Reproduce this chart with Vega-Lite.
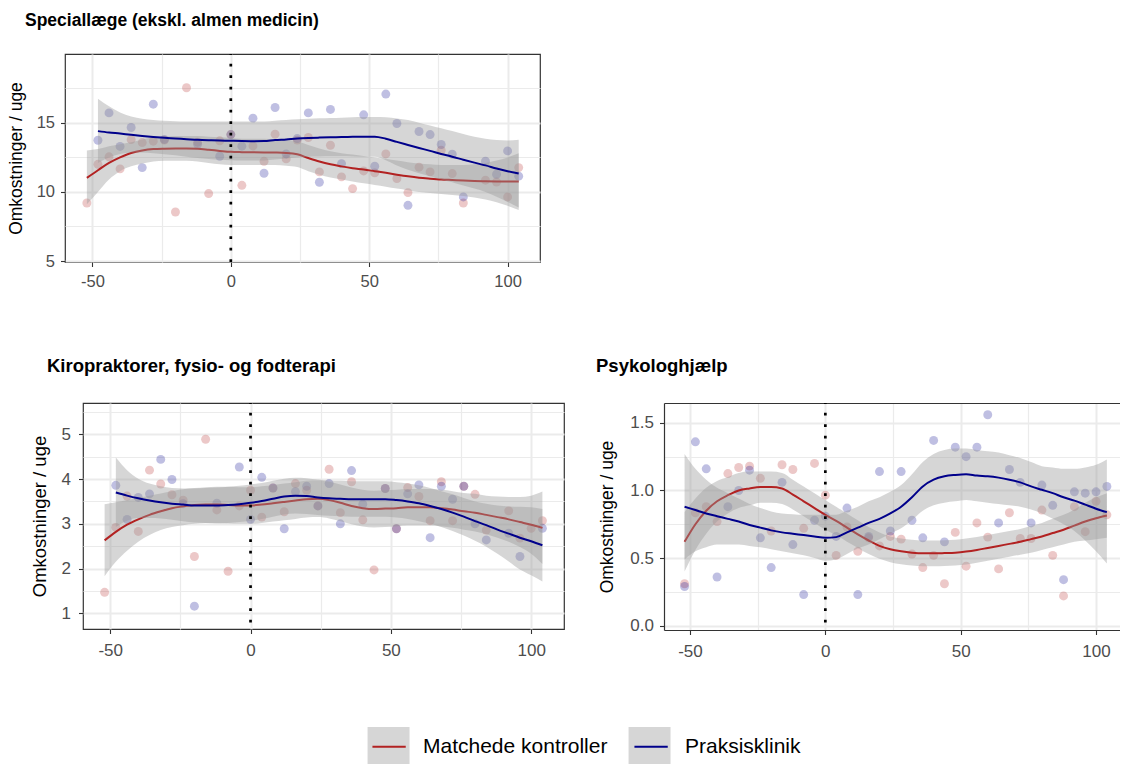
{
  "$schema": "https://vega.github.io/schema/vega-lite/v6.json",
  "padding": {"left": 0, "top": 11, "right": 0, "bottom": 0},
  "config": {
    "font": "Liberation Sans",
    "view": {"stroke": "#333333", "strokeWidth": 1.2},
    "axis": {"labelColor": "#4d4d4d", "titleColor": "#000000", "tickColor": "#333333", "tickSize": 4.5, "tickWidth": 1.1, "domain": false, "gridColor": "#ebebeb", "titleFontWeight": "normal", "labelFont": "Liberation Sans", "titleFont": "Liberation Sans"},
    "title": {"font": "Liberation Sans", "fontWeight": "bold", "color": "#000000", "anchor": "start", "frame": "group"},
    "legend": {"orient": "none", "direction": "horizontal", "legendX": 367, "legendY": 673, "title": null, "symbolSize": 1369, "labelFontSize": 21, "labelColor": "#000000", "labelOffset": 17, "columnPadding": 21, "labelLimit": 400, "padding": 0, "labelFont": "Liberation Sans"}
  },
  "datasets": {
    "vline": [{"x": 0}],
    "p1_pts": [
      {"x": -52, "y": 9.2, "group": "Matchede kontroller"},
      {"x": -48, "y": 12.0, "group": "Matchede kontroller"},
      {"x": -44, "y": 12.54, "group": "Matchede kontroller"},
      {"x": -40, "y": 11.67, "group": "Matchede kontroller"},
      {"x": -36, "y": 13.79, "group": "Matchede kontroller"},
      {"x": -32, "y": 13.57, "group": "Matchede kontroller"},
      {"x": -28, "y": 13.67, "group": "Matchede kontroller"},
      {"x": -24, "y": 13.75, "group": "Matchede kontroller"},
      {"x": -20, "y": 8.55, "group": "Matchede kontroller"},
      {"x": -16, "y": 17.54, "group": "Matchede kontroller"},
      {"x": -12, "y": 13.6, "group": "Matchede kontroller"},
      {"x": -8, "y": 9.88, "group": "Matchede kontroller"},
      {"x": -4, "y": 13.7, "group": "Matchede kontroller"},
      {"x": 0, "y": 14.15, "group": "Matchede kontroller"},
      {"x": 4, "y": 10.48, "group": "Matchede kontroller"},
      {"x": 8, "y": 13.33, "group": "Matchede kontroller"},
      {"x": 12, "y": 12.22, "group": "Matchede kontroller"},
      {"x": 16, "y": 14.18, "group": "Matchede kontroller"},
      {"x": 20, "y": 12.39, "group": "Matchede kontroller"},
      {"x": 24, "y": 13.75, "group": "Matchede kontroller"},
      {"x": 28, "y": 13.94, "group": "Matchede kontroller"},
      {"x": 32, "y": 11.45, "group": "Matchede kontroller"},
      {"x": 36, "y": 13.38, "group": "Matchede kontroller"},
      {"x": 40, "y": 11.09, "group": "Matchede kontroller"},
      {"x": 44, "y": 10.24, "group": "Matchede kontroller"},
      {"x": 48, "y": 11.52, "group": "Matchede kontroller"},
      {"x": 52, "y": 11.38, "group": "Matchede kontroller"},
      {"x": 56, "y": 12.75, "group": "Matchede kontroller"},
      {"x": 60, "y": 10.97, "group": "Matchede kontroller"},
      {"x": 64, "y": 9.95, "group": "Matchede kontroller"},
      {"x": 68, "y": 11.79, "group": "Matchede kontroller"},
      {"x": 72, "y": 11.45, "group": "Matchede kontroller"},
      {"x": 76, "y": 13.02, "group": "Matchede kontroller"},
      {"x": 80, "y": 11.33, "group": "Matchede kontroller"},
      {"x": 84, "y": 9.2, "group": "Matchede kontroller"},
      {"x": 92, "y": 10.85, "group": "Matchede kontroller"},
      {"x": 96, "y": 10.72, "group": "Matchede kontroller"},
      {"x": 100, "y": 9.64, "group": "Matchede kontroller"},
      {"x": 104, "y": 11.76, "group": "Matchede kontroller"},
      {"x": -48, "y": 13.74, "group": "Praksisklinik"},
      {"x": -44, "y": 15.72, "group": "Praksisklinik"},
      {"x": -40, "y": 13.29, "group": "Praksisklinik"},
      {"x": -36, "y": 14.66, "group": "Praksisklinik"},
      {"x": -32, "y": 11.76, "group": "Praksisklinik"},
      {"x": -28, "y": 16.35, "group": "Praksisklinik"},
      {"x": -24, "y": 13.8, "group": "Praksisklinik"},
      {"x": -12, "y": 13.45, "group": "Praksisklinik"},
      {"x": -4, "y": 12.58, "group": "Praksisklinik"},
      {"x": 0, "y": 14.15, "group": "Praksisklinik"},
      {"x": 4, "y": 13.31, "group": "Praksisklinik"},
      {"x": 8, "y": 15.34, "group": "Praksisklinik"},
      {"x": 12, "y": 11.35, "group": "Praksisklinik"},
      {"x": 16, "y": 16.11, "group": "Praksisklinik"},
      {"x": 20, "y": 12.75, "group": "Praksisklinik"},
      {"x": 24, "y": 13.86, "group": "Praksisklinik"},
      {"x": 28, "y": 15.72, "group": "Praksisklinik"},
      {"x": 32, "y": 10.7, "group": "Praksisklinik"},
      {"x": 36, "y": 15.97, "group": "Praksisklinik"},
      {"x": 40, "y": 12.05, "group": "Praksisklinik"},
      {"x": 48, "y": 15.58, "group": "Praksisklinik"},
      {"x": 52, "y": 11.86, "group": "Praksisklinik"},
      {"x": 56, "y": 17.08, "group": "Praksisklinik"},
      {"x": 60, "y": 14.95, "group": "Praksisklinik"},
      {"x": 64, "y": 9.03, "group": "Praksisklinik"},
      {"x": 68, "y": 14.37, "group": "Praksisklinik"},
      {"x": 72, "y": 14.15, "group": "Praksisklinik"},
      {"x": 76, "y": 13.43, "group": "Praksisklinik"},
      {"x": 80, "y": 12.73, "group": "Praksisklinik"},
      {"x": 84, "y": 9.64, "group": "Praksisklinik"},
      {"x": 92, "y": 12.22, "group": "Praksisklinik"},
      {"x": 96, "y": 11.28, "group": "Praksisklinik"},
      {"x": 100, "y": 12.97, "group": "Praksisklinik"},
      {"x": 104, "y": 11.14, "group": "Praksisklinik"}
    ],
    "p1_fit": [
      {"x": -52, "fit": 11.02, "lo": 9.1, "hi": 13.0, "group": "Matchede kontroller"},
      {"x": -48, "fit": 11.57, "lo": 10.0, "hi": 13.1, "group": "Matchede kontroller"},
      {"x": -44, "fit": 12.1, "lo": 10.9, "hi": 13.3, "group": "Matchede kontroller"},
      {"x": -40, "fit": 12.5, "lo": 11.5, "hi": 13.45, "group": "Matchede kontroller"},
      {"x": -36, "fit": 12.82, "lo": 11.85, "hi": 13.6, "group": "Matchede kontroller"},
      {"x": -32, "fit": 13.0, "lo": 12.05, "hi": 13.8, "group": "Matchede kontroller"},
      {"x": -28, "fit": 13.1, "lo": 12.2, "hi": 13.95, "group": "Matchede kontroller"},
      {"x": -24, "fit": 13.13, "lo": 12.25, "hi": 14.0, "group": "Matchede kontroller"},
      {"x": -20, "fit": 13.14, "lo": 12.25, "hi": 14.05, "group": "Matchede kontroller"},
      {"x": -16, "fit": 13.14, "lo": 12.25, "hi": 14.05, "group": "Matchede kontroller"},
      {"x": -12, "fit": 13.12, "lo": 12.2, "hi": 14.05, "group": "Matchede kontroller"},
      {"x": -8, "fit": 13.05, "lo": 12.1, "hi": 14.0, "group": "Matchede kontroller"},
      {"x": -4, "fit": 12.97, "lo": 12.0, "hi": 13.95, "group": "Matchede kontroller"},
      {"x": 0, "fit": 12.9, "lo": 11.95, "hi": 13.9, "group": "Matchede kontroller"},
      {"x": 4, "fit": 12.88, "lo": 11.95, "hi": 13.85, "group": "Matchede kontroller"},
      {"x": 8, "fit": 12.87, "lo": 11.95, "hi": 13.85, "group": "Matchede kontroller"},
      {"x": 12, "fit": 12.86, "lo": 11.95, "hi": 13.85, "group": "Matchede kontroller"},
      {"x": 16, "fit": 12.85, "lo": 11.95, "hi": 13.8, "group": "Matchede kontroller"},
      {"x": 20, "fit": 12.82, "lo": 11.9, "hi": 13.75, "group": "Matchede kontroller"},
      {"x": 24, "fit": 12.72, "lo": 11.8, "hi": 13.65, "group": "Matchede kontroller"},
      {"x": 28, "fit": 12.45, "lo": 11.5, "hi": 13.4, "group": "Matchede kontroller"},
      {"x": 32, "fit": 12.2, "lo": 11.25, "hi": 13.15, "group": "Matchede kontroller"},
      {"x": 36, "fit": 12.0, "lo": 11.05, "hi": 12.95, "group": "Matchede kontroller"},
      {"x": 40, "fit": 11.85, "lo": 10.9, "hi": 12.8, "group": "Matchede kontroller"},
      {"x": 44, "fit": 11.72, "lo": 10.75, "hi": 12.7, "group": "Matchede kontroller"},
      {"x": 48, "fit": 11.62, "lo": 10.62, "hi": 12.6, "group": "Matchede kontroller"},
      {"x": 52, "fit": 11.5, "lo": 10.5, "hi": 12.5, "group": "Matchede kontroller"},
      {"x": 56, "fit": 11.38, "lo": 10.38, "hi": 12.4, "group": "Matchede kontroller"},
      {"x": 60, "fit": 11.25, "lo": 10.25, "hi": 12.27, "group": "Matchede kontroller"},
      {"x": 64, "fit": 11.13, "lo": 10.13, "hi": 12.15, "group": "Matchede kontroller"},
      {"x": 68, "fit": 11.03, "lo": 10.0, "hi": 12.05, "group": "Matchede kontroller"},
      {"x": 72, "fit": 10.96, "lo": 9.92, "hi": 12.0, "group": "Matchede kontroller"},
      {"x": 76, "fit": 10.9, "lo": 9.85, "hi": 11.95, "group": "Matchede kontroller"},
      {"x": 80, "fit": 10.86, "lo": 9.78, "hi": 11.94, "group": "Matchede kontroller"},
      {"x": 84, "fit": 10.82, "lo": 9.7, "hi": 11.95, "group": "Matchede kontroller"},
      {"x": 88, "fit": 10.79, "lo": 9.6, "hi": 12.0, "group": "Matchede kontroller"},
      {"x": 92, "fit": 10.77, "lo": 9.45, "hi": 12.1, "group": "Matchede kontroller"},
      {"x": 96, "fit": 10.76, "lo": 9.25, "hi": 12.27, "group": "Matchede kontroller"},
      {"x": 100, "fit": 10.75, "lo": 9.0, "hi": 12.5, "group": "Matchede kontroller"},
      {"x": 104, "fit": 10.75, "lo": 8.7, "hi": 12.8, "group": "Matchede kontroller"},
      {"x": -48, "fit": 14.4, "lo": 12.1, "hi": 16.75, "group": "Praksisklinik"},
      {"x": -44, "fit": 14.3, "lo": 12.5, "hi": 16.2, "group": "Praksisklinik"},
      {"x": -40, "fit": 14.22, "lo": 12.75, "hi": 15.75, "group": "Praksisklinik"},
      {"x": -36, "fit": 14.13, "lo": 12.85, "hi": 15.45, "group": "Praksisklinik"},
      {"x": -32, "fit": 14.05, "lo": 12.85, "hi": 15.3, "group": "Praksisklinik"},
      {"x": -28, "fit": 13.98, "lo": 12.8, "hi": 15.2, "group": "Praksisklinik"},
      {"x": -24, "fit": 13.92, "lo": 12.72, "hi": 15.15, "group": "Praksisklinik"},
      {"x": -20, "fit": 13.87, "lo": 12.65, "hi": 15.12, "group": "Praksisklinik"},
      {"x": -16, "fit": 13.82, "lo": 12.55, "hi": 15.1, "group": "Praksisklinik"},
      {"x": -12, "fit": 13.77, "lo": 12.45, "hi": 15.1, "group": "Praksisklinik"},
      {"x": -8, "fit": 13.74, "lo": 12.38, "hi": 15.1, "group": "Praksisklinik"},
      {"x": -4, "fit": 13.72, "lo": 12.33, "hi": 15.1, "group": "Praksisklinik"},
      {"x": 0, "fit": 13.7, "lo": 12.3, "hi": 15.1, "group": "Praksisklinik"},
      {"x": 4, "fit": 13.68, "lo": 12.28, "hi": 15.1, "group": "Praksisklinik"},
      {"x": 8, "fit": 13.67, "lo": 12.27, "hi": 15.1, "group": "Praksisklinik"},
      {"x": 12, "fit": 13.68, "lo": 12.28, "hi": 15.1, "group": "Praksisklinik"},
      {"x": 16, "fit": 13.75, "lo": 12.35, "hi": 15.15, "group": "Praksisklinik"},
      {"x": 20, "fit": 13.8, "lo": 12.42, "hi": 15.2, "group": "Praksisklinik"},
      {"x": 24, "fit": 13.86, "lo": 12.5, "hi": 15.25, "group": "Praksisklinik"},
      {"x": 28, "fit": 13.9, "lo": 12.55, "hi": 15.3, "group": "Praksisklinik"},
      {"x": 32, "fit": 13.93, "lo": 12.57, "hi": 15.33, "group": "Praksisklinik"},
      {"x": 36, "fit": 13.95, "lo": 12.58, "hi": 15.35, "group": "Praksisklinik"},
      {"x": 40, "fit": 13.97, "lo": 12.58, "hi": 15.37, "group": "Praksisklinik"},
      {"x": 44, "fit": 13.99, "lo": 12.57, "hi": 15.4, "group": "Praksisklinik"},
      {"x": 48, "fit": 14.0, "lo": 12.55, "hi": 15.42, "group": "Praksisklinik"},
      {"x": 52, "fit": 14.0, "lo": 12.55, "hi": 15.43, "group": "Praksisklinik"},
      {"x": 56, "fit": 13.85, "lo": 12.3, "hi": 15.4, "group": "Praksisklinik"},
      {"x": 60, "fit": 13.62, "lo": 11.92, "hi": 15.32, "group": "Praksisklinik"},
      {"x": 64, "fit": 13.4, "lo": 11.6, "hi": 15.2, "group": "Praksisklinik"},
      {"x": 68, "fit": 13.18, "lo": 11.36, "hi": 15.0, "group": "Praksisklinik"},
      {"x": 72, "fit": 12.97, "lo": 11.14, "hi": 14.8, "group": "Praksisklinik"},
      {"x": 76, "fit": 12.75, "lo": 10.9, "hi": 14.6, "group": "Praksisklinik"},
      {"x": 80, "fit": 12.55, "lo": 10.7, "hi": 14.4, "group": "Praksisklinik"},
      {"x": 84, "fit": 12.33, "lo": 10.46, "hi": 14.2, "group": "Praksisklinik"},
      {"x": 88, "fit": 12.12, "lo": 10.24, "hi": 14.0, "group": "Praksisklinik"},
      {"x": 92, "fit": 11.92, "lo": 9.99, "hi": 13.85, "group": "Praksisklinik"},
      {"x": 96, "fit": 11.7, "lo": 9.65, "hi": 13.75, "group": "Praksisklinik"},
      {"x": 100, "fit": 11.5, "lo": 9.28, "hi": 13.72, "group": "Praksisklinik"},
      {"x": 104, "fit": 11.33, "lo": 8.88, "hi": 13.78, "group": "Praksisklinik"}
    ],
    "p2_pts": [
      {"x": -52, "y": 1.47, "group": "Matchede kontroller"},
      {"x": -48, "y": 2.92, "group": "Matchede kontroller"},
      {"x": -44, "y": 3.62, "group": "Matchede kontroller"},
      {"x": -40, "y": 2.83, "group": "Matchede kontroller"},
      {"x": -36, "y": 4.2, "group": "Matchede kontroller"},
      {"x": -32, "y": 3.89, "group": "Matchede kontroller"},
      {"x": -28, "y": 3.65, "group": "Matchede kontroller"},
      {"x": -24, "y": 3.53, "group": "Matchede kontroller"},
      {"x": -20, "y": 2.27, "group": "Matchede kontroller"},
      {"x": -16, "y": 4.89, "group": "Matchede kontroller"},
      {"x": -12, "y": 3.31, "group": "Matchede kontroller"},
      {"x": -8, "y": 1.94, "group": "Matchede kontroller"},
      {"x": -4, "y": 3.4, "group": "Matchede kontroller"},
      {"x": 0, "y": 3.75, "group": "Matchede kontroller"},
      {"x": 4, "y": 3.15, "group": "Matchede kontroller"},
      {"x": 8, "y": 3.8, "group": "Matchede kontroller"},
      {"x": 12, "y": 3.27, "group": "Matchede kontroller"},
      {"x": 16, "y": 3.9, "group": "Matchede kontroller"},
      {"x": 20, "y": 3.75, "group": "Matchede kontroller"},
      {"x": 24, "y": 3.4, "group": "Matchede kontroller"},
      {"x": 28, "y": 4.22, "group": "Matchede kontroller"},
      {"x": 32, "y": 3.25, "group": "Matchede kontroller"},
      {"x": 36, "y": 3.94, "group": "Matchede kontroller"},
      {"x": 40, "y": 3.09, "group": "Matchede kontroller"},
      {"x": 44, "y": 1.97, "group": "Matchede kontroller"},
      {"x": 48, "y": 3.79, "group": "Matchede kontroller"},
      {"x": 52, "y": 2.89, "group": "Matchede kontroller"},
      {"x": 56, "y": 3.81, "group": "Matchede kontroller"},
      {"x": 60, "y": 3.61, "group": "Matchede kontroller"},
      {"x": 64, "y": 3.07, "group": "Matchede kontroller"},
      {"x": 68, "y": 3.94, "group": "Matchede kontroller"},
      {"x": 72, "y": 3.07, "group": "Matchede kontroller"},
      {"x": 76, "y": 3.84, "group": "Matchede kontroller"},
      {"x": 80, "y": 3.66, "group": "Matchede kontroller"},
      {"x": 84, "y": 2.86, "group": "Matchede kontroller"},
      {"x": 92, "y": 3.29, "group": "Matchede kontroller"},
      {"x": 96, "y": 2.68, "group": "Matchede kontroller"},
      {"x": 100, "y": 2.9, "group": "Matchede kontroller"},
      {"x": 104, "y": 3.07, "group": "Matchede kontroller"},
      {"x": -48, "y": 3.86, "group": "Praksisklinik"},
      {"x": -44, "y": 3.1, "group": "Praksisklinik"},
      {"x": -40, "y": 3.59, "group": "Praksisklinik"},
      {"x": -36, "y": 3.67, "group": "Praksisklinik"},
      {"x": -32, "y": 4.44, "group": "Praksisklinik"},
      {"x": -28, "y": 3.99, "group": "Praksisklinik"},
      {"x": -24, "y": 3.45, "group": "Praksisklinik"},
      {"x": -20, "y": 1.16, "group": "Praksisklinik"},
      {"x": -12, "y": 3.46, "group": "Praksisklinik"},
      {"x": -4, "y": 4.27, "group": "Praksisklinik"},
      {"x": 0, "y": 3.1, "group": "Praksisklinik"},
      {"x": 4, "y": 4.04, "group": "Praksisklinik"},
      {"x": 8, "y": 3.8, "group": "Praksisklinik"},
      {"x": 12, "y": 2.89, "group": "Praksisklinik"},
      {"x": 16, "y": 3.72, "group": "Praksisklinik"},
      {"x": 20, "y": 3.84, "group": "Praksisklinik"},
      {"x": 24, "y": 3.4, "group": "Praksisklinik"},
      {"x": 28, "y": 3.9, "group": "Praksisklinik"},
      {"x": 32, "y": 3.0, "group": "Praksisklinik"},
      {"x": 36, "y": 4.19, "group": "Praksisklinik"},
      {"x": 40, "y": 3.44, "group": "Praksisklinik"},
      {"x": 48, "y": 3.79, "group": "Praksisklinik"},
      {"x": 52, "y": 2.89, "group": "Praksisklinik"},
      {"x": 56, "y": 3.67, "group": "Praksisklinik"},
      {"x": 60, "y": 3.87, "group": "Praksisklinik"},
      {"x": 64, "y": 2.69, "group": "Praksisklinik"},
      {"x": 68, "y": 3.84, "group": "Praksisklinik"},
      {"x": 72, "y": 3.55, "group": "Praksisklinik"},
      {"x": 76, "y": 3.84, "group": "Praksisklinik"},
      {"x": 80, "y": 3.0, "group": "Praksisklinik"},
      {"x": 84, "y": 2.64, "group": "Praksisklinik"},
      {"x": 92, "y": 2.79, "group": "Praksisklinik"},
      {"x": 96, "y": 2.27, "group": "Praksisklinik"},
      {"x": 104, "y": 2.9, "group": "Praksisklinik"}
    ],
    "p2_fit": [
      {"x": -52, "fit": 2.63, "lo": 1.83, "hi": 3.44, "group": "Matchede kontroller"},
      {"x": -48, "fit": 2.82, "lo": 2.15, "hi": 3.48, "group": "Matchede kontroller"},
      {"x": -44, "fit": 2.98, "lo": 2.4, "hi": 3.53, "group": "Matchede kontroller"},
      {"x": -40, "fit": 3.1, "lo": 2.6, "hi": 3.58, "group": "Matchede kontroller"},
      {"x": -36, "fit": 3.2, "lo": 2.75, "hi": 3.63, "group": "Matchede kontroller"},
      {"x": -32, "fit": 3.28, "lo": 2.86, "hi": 3.68, "group": "Matchede kontroller"},
      {"x": -28, "fit": 3.35, "lo": 2.93, "hi": 3.73, "group": "Matchede kontroller"},
      {"x": -24, "fit": 3.39, "lo": 2.97, "hi": 3.77, "group": "Matchede kontroller"},
      {"x": -20, "fit": 3.42, "lo": 3.0, "hi": 3.8, "group": "Matchede kontroller"},
      {"x": -16, "fit": 3.43, "lo": 3.02, "hi": 3.82, "group": "Matchede kontroller"},
      {"x": -12, "fit": 3.43, "lo": 3.02, "hi": 3.83, "group": "Matchede kontroller"},
      {"x": -8, "fit": 3.42, "lo": 3.01, "hi": 3.83, "group": "Matchede kontroller"},
      {"x": -4, "fit": 3.41, "lo": 3.0, "hi": 3.82, "group": "Matchede kontroller"},
      {"x": 0, "fit": 3.41, "lo": 3.0, "hi": 3.82, "group": "Matchede kontroller"},
      {"x": 4, "fit": 3.43, "lo": 3.02, "hi": 3.84, "group": "Matchede kontroller"},
      {"x": 8, "fit": 3.46, "lo": 3.05, "hi": 3.87, "group": "Matchede kontroller"},
      {"x": 12, "fit": 3.49, "lo": 3.08, "hi": 3.9, "group": "Matchede kontroller"},
      {"x": 16, "fit": 3.52, "lo": 3.11, "hi": 3.93, "group": "Matchede kontroller"},
      {"x": 20, "fit": 3.55, "lo": 3.14, "hi": 3.96, "group": "Matchede kontroller"},
      {"x": 24, "fit": 3.56, "lo": 3.15, "hi": 3.97, "group": "Matchede kontroller"},
      {"x": 28, "fit": 3.53, "lo": 3.12, "hi": 3.94, "group": "Matchede kontroller"},
      {"x": 32, "fit": 3.47, "lo": 3.06, "hi": 3.88, "group": "Matchede kontroller"},
      {"x": 36, "fit": 3.4, "lo": 2.99, "hi": 3.81, "group": "Matchede kontroller"},
      {"x": 40, "fit": 3.35, "lo": 2.94, "hi": 3.76, "group": "Matchede kontroller"},
      {"x": 44, "fit": 3.33, "lo": 2.92, "hi": 3.74, "group": "Matchede kontroller"},
      {"x": 48, "fit": 3.34, "lo": 2.93, "hi": 3.75, "group": "Matchede kontroller"},
      {"x": 52, "fit": 3.35, "lo": 2.94, "hi": 3.76, "group": "Matchede kontroller"},
      {"x": 56, "fit": 3.37, "lo": 2.96, "hi": 3.78, "group": "Matchede kontroller"},
      {"x": 60, "fit": 3.37, "lo": 2.96, "hi": 3.78, "group": "Matchede kontroller"},
      {"x": 64, "fit": 3.37, "lo": 2.96, "hi": 3.78, "group": "Matchede kontroller"},
      {"x": 68, "fit": 3.35, "lo": 2.94, "hi": 3.76, "group": "Matchede kontroller"},
      {"x": 72, "fit": 3.32, "lo": 2.91, "hi": 3.73, "group": "Matchede kontroller"},
      {"x": 76, "fit": 3.28, "lo": 2.87, "hi": 3.69, "group": "Matchede kontroller"},
      {"x": 80, "fit": 3.25, "lo": 2.83, "hi": 3.67, "group": "Matchede kontroller"},
      {"x": 84, "fit": 3.2, "lo": 2.77, "hi": 3.63, "group": "Matchede kontroller"},
      {"x": 88, "fit": 3.15, "lo": 2.69, "hi": 3.61, "group": "Matchede kontroller"},
      {"x": 92, "fit": 3.1, "lo": 2.6, "hi": 3.6, "group": "Matchede kontroller"},
      {"x": 96, "fit": 3.04, "lo": 2.48, "hi": 3.6, "group": "Matchede kontroller"},
      {"x": 100, "fit": 2.98, "lo": 2.33, "hi": 3.63, "group": "Matchede kontroller"},
      {"x": 104, "fit": 2.91, "lo": 2.1, "hi": 3.72, "group": "Matchede kontroller"},
      {"x": -48, "fit": 3.7, "lo": 2.93, "hi": 4.48, "group": "Praksisklinik"},
      {"x": -44, "fit": 3.63, "lo": 3.07, "hi": 4.2, "group": "Praksisklinik"},
      {"x": -40, "fit": 3.57, "lo": 3.13, "hi": 4.01, "group": "Praksisklinik"},
      {"x": -36, "fit": 3.52, "lo": 3.13, "hi": 3.9, "group": "Praksisklinik"},
      {"x": -32, "fit": 3.48, "lo": 3.12, "hi": 3.84, "group": "Praksisklinik"},
      {"x": -28, "fit": 3.45, "lo": 3.09, "hi": 3.8, "group": "Praksisklinik"},
      {"x": -24, "fit": 3.43, "lo": 3.06, "hi": 3.79, "group": "Praksisklinik"},
      {"x": -20, "fit": 3.41, "lo": 3.03, "hi": 3.79, "group": "Praksisklinik"},
      {"x": -16, "fit": 3.41, "lo": 3.02, "hi": 3.8, "group": "Praksisklinik"},
      {"x": -12, "fit": 3.41, "lo": 3.01, "hi": 3.81, "group": "Praksisklinik"},
      {"x": -8, "fit": 3.42, "lo": 3.02, "hi": 3.83, "group": "Praksisklinik"},
      {"x": -4, "fit": 3.44, "lo": 3.04, "hi": 3.85, "group": "Praksisklinik"},
      {"x": 0, "fit": 3.47, "lo": 3.07, "hi": 3.88, "group": "Praksisklinik"},
      {"x": 4, "fit": 3.51, "lo": 3.11, "hi": 3.91, "group": "Praksisklinik"},
      {"x": 8, "fit": 3.56, "lo": 3.16, "hi": 3.96, "group": "Praksisklinik"},
      {"x": 12, "fit": 3.61, "lo": 3.21, "hi": 4.01, "group": "Praksisklinik"},
      {"x": 16, "fit": 3.63, "lo": 3.23, "hi": 4.03, "group": "Praksisklinik"},
      {"x": 20, "fit": 3.62, "lo": 3.22, "hi": 4.02, "group": "Praksisklinik"},
      {"x": 24, "fit": 3.59, "lo": 3.2, "hi": 3.99, "group": "Praksisklinik"},
      {"x": 28, "fit": 3.57, "lo": 3.18, "hi": 3.97, "group": "Praksisklinik"},
      {"x": 32, "fit": 3.56, "lo": 3.17, "hi": 3.96, "group": "Praksisklinik"},
      {"x": 36, "fit": 3.55, "lo": 3.16, "hi": 3.95, "group": "Praksisklinik"},
      {"x": 40, "fit": 3.55, "lo": 3.16, "hi": 3.95, "group": "Praksisklinik"},
      {"x": 44, "fit": 3.55, "lo": 3.16, "hi": 3.95, "group": "Praksisklinik"},
      {"x": 48, "fit": 3.55, "lo": 3.16, "hi": 3.95, "group": "Praksisklinik"},
      {"x": 52, "fit": 3.53, "lo": 3.14, "hi": 3.93, "group": "Praksisklinik"},
      {"x": 56, "fit": 3.5, "lo": 3.11, "hi": 3.9, "group": "Praksisklinik"},
      {"x": 60, "fit": 3.46, "lo": 3.06, "hi": 3.86, "group": "Praksisklinik"},
      {"x": 64, "fit": 3.4, "lo": 3.0, "hi": 3.8, "group": "Praksisklinik"},
      {"x": 68, "fit": 3.33, "lo": 2.93, "hi": 3.73, "group": "Praksisklinik"},
      {"x": 72, "fit": 3.25, "lo": 2.84, "hi": 3.66, "group": "Praksisklinik"},
      {"x": 76, "fit": 3.16, "lo": 2.74, "hi": 3.58, "group": "Praksisklinik"},
      {"x": 80, "fit": 3.06, "lo": 2.62, "hi": 3.5, "group": "Praksisklinik"},
      {"x": 84, "fit": 2.97, "lo": 2.49, "hi": 3.45, "group": "Praksisklinik"},
      {"x": 88, "fit": 2.87, "lo": 2.33, "hi": 3.41, "group": "Praksisklinik"},
      {"x": 92, "fit": 2.78, "lo": 2.16, "hi": 3.39, "group": "Praksisklinik"},
      {"x": 96, "fit": 2.69, "lo": 1.98, "hi": 3.38, "group": "Praksisklinik"},
      {"x": 100, "fit": 2.61, "lo": 1.85, "hi": 3.37, "group": "Praksisklinik"},
      {"x": 104, "fit": 2.52, "lo": 1.71, "hi": 3.33, "group": "Praksisklinik"}
    ],
    "p3_pts": [
      {"x": -52, "y": 0.31, "group": "Matchede kontroller"},
      {"x": -48, "y": 0.835, "group": "Matchede kontroller"},
      {"x": -44, "y": 0.88, "group": "Matchede kontroller"},
      {"x": -40, "y": 0.77, "group": "Matchede kontroller"},
      {"x": -36, "y": 1.125, "group": "Matchede kontroller"},
      {"x": -32, "y": 1.17, "group": "Matchede kontroller"},
      {"x": -28, "y": 1.18, "group": "Matchede kontroller"},
      {"x": -24, "y": 1.09, "group": "Matchede kontroller"},
      {"x": -20, "y": 0.7, "group": "Matchede kontroller"},
      {"x": -16, "y": 1.19, "group": "Matchede kontroller"},
      {"x": -12, "y": 1.155, "group": "Matchede kontroller"},
      {"x": -8, "y": 0.72, "group": "Matchede kontroller"},
      {"x": -4, "y": 1.2, "group": "Matchede kontroller"},
      {"x": 0, "y": 0.965, "group": "Matchede kontroller"},
      {"x": 4, "y": 0.52, "group": "Matchede kontroller"},
      {"x": 8, "y": 0.73, "group": "Matchede kontroller"},
      {"x": 12, "y": 0.55, "group": "Matchede kontroller"},
      {"x": 16, "y": 0.65, "group": "Matchede kontroller"},
      {"x": 20, "y": 0.59, "group": "Matchede kontroller"},
      {"x": 24, "y": 0.66, "group": "Matchede kontroller"},
      {"x": 28, "y": 0.64, "group": "Matchede kontroller"},
      {"x": 32, "y": 0.53, "group": "Matchede kontroller"},
      {"x": 36, "y": 0.43, "group": "Matchede kontroller"},
      {"x": 40, "y": 0.52, "group": "Matchede kontroller"},
      {"x": 44, "y": 0.31, "group": "Matchede kontroller"},
      {"x": 48, "y": 0.69, "group": "Matchede kontroller"},
      {"x": 52, "y": 0.44, "group": "Matchede kontroller"},
      {"x": 56, "y": 0.76, "group": "Matchede kontroller"},
      {"x": 60, "y": 0.655, "group": "Matchede kontroller"},
      {"x": 64, "y": 0.42, "group": "Matchede kontroller"},
      {"x": 68, "y": 0.835, "group": "Matchede kontroller"},
      {"x": 72, "y": 0.645, "group": "Matchede kontroller"},
      {"x": 76, "y": 0.645, "group": "Matchede kontroller"},
      {"x": 80, "y": 0.855, "group": "Matchede kontroller"},
      {"x": 84, "y": 0.52, "group": "Matchede kontroller"},
      {"x": 88, "y": 0.22, "group": "Matchede kontroller"},
      {"x": 92, "y": 0.88, "group": "Matchede kontroller"},
      {"x": 96, "y": 0.695, "group": "Matchede kontroller"},
      {"x": 100, "y": 0.92, "group": "Matchede kontroller"},
      {"x": 104, "y": 0.82, "group": "Matchede kontroller"},
      {"x": -52, "y": 0.29, "group": "Praksisklinik"},
      {"x": -48, "y": 1.36, "group": "Praksisklinik"},
      {"x": -44, "y": 1.16, "group": "Praksisklinik"},
      {"x": -40, "y": 0.36, "group": "Praksisklinik"},
      {"x": -36, "y": 0.88, "group": "Praksisklinik"},
      {"x": -32, "y": 1.0, "group": "Praksisklinik"},
      {"x": -28, "y": 1.15, "group": "Praksisklinik"},
      {"x": -24, "y": 0.65, "group": "Praksisklinik"},
      {"x": -20, "y": 0.43, "group": "Praksisklinik"},
      {"x": -16, "y": 1.06, "group": "Praksisklinik"},
      {"x": -12, "y": 0.6, "group": "Praksisklinik"},
      {"x": -8, "y": 0.23, "group": "Praksisklinik"},
      {"x": -4, "y": 0.78, "group": "Praksisklinik"},
      {"x": 0, "y": 0.81, "group": "Praksisklinik"},
      {"x": 4, "y": 0.66, "group": "Praksisklinik"},
      {"x": 8, "y": 0.87, "group": "Praksisklinik"},
      {"x": 12, "y": 0.23, "group": "Praksisklinik"},
      {"x": 16, "y": 0.66, "group": "Praksisklinik"},
      {"x": 20, "y": 1.14, "group": "Praksisklinik"},
      {"x": 24, "y": 0.7, "group": "Praksisklinik"},
      {"x": 28, "y": 1.14, "group": "Praksisklinik"},
      {"x": 32, "y": 0.78, "group": "Praksisklinik"},
      {"x": 36, "y": 0.65, "group": "Praksisklinik"},
      {"x": 40, "y": 1.37, "group": "Praksisklinik"},
      {"x": 44, "y": 0.62, "group": "Praksisklinik"},
      {"x": 48, "y": 1.32, "group": "Praksisklinik"},
      {"x": 52, "y": 1.25, "group": "Praksisklinik"},
      {"x": 56, "y": 1.32, "group": "Praksisklinik"},
      {"x": 60, "y": 1.56, "group": "Praksisklinik"},
      {"x": 64, "y": 0.76, "group": "Praksisklinik"},
      {"x": 68, "y": 1.155, "group": "Praksisklinik"},
      {"x": 72, "y": 1.06, "group": "Praksisklinik"},
      {"x": 76, "y": 0.76, "group": "Praksisklinik"},
      {"x": 80, "y": 1.04, "group": "Praksisklinik"},
      {"x": 84, "y": 0.89, "group": "Praksisklinik"},
      {"x": 88, "y": 0.34, "group": "Praksisklinik"},
      {"x": 92, "y": 0.99, "group": "Praksisklinik"},
      {"x": 96, "y": 0.98, "group": "Praksisklinik"},
      {"x": 100, "y": 0.99, "group": "Praksisklinik"},
      {"x": 104, "y": 1.03, "group": "Praksisklinik"}
    ],
    "p3_fit": [
      {"x": -52, "fit": 0.62, "lo": 0.4, "hi": 0.84, "group": "Matchede kontroller"},
      {"x": -48, "fit": 0.75, "lo": 0.56, "hi": 0.94, "group": "Matchede kontroller"},
      {"x": -44, "fit": 0.85, "lo": 0.68, "hi": 1.02, "group": "Matchede kontroller"},
      {"x": -40, "fit": 0.92, "lo": 0.77, "hi": 1.07, "group": "Matchede kontroller"},
      {"x": -36, "fit": 0.965, "lo": 0.83, "hi": 1.1, "group": "Matchede kontroller"},
      {"x": -32, "fit": 1.0, "lo": 0.87, "hi": 1.13, "group": "Matchede kontroller"},
      {"x": -28, "fit": 1.015, "lo": 0.89, "hi": 1.14, "group": "Matchede kontroller"},
      {"x": -24, "fit": 1.025, "lo": 0.91, "hi": 1.14, "group": "Matchede kontroller"},
      {"x": -20, "fit": 1.025, "lo": 0.91, "hi": 1.14, "group": "Matchede kontroller"},
      {"x": -16, "fit": 1.015, "lo": 0.9, "hi": 1.13, "group": "Matchede kontroller"},
      {"x": -12, "fit": 0.97, "lo": 0.86, "hi": 1.08, "group": "Matchede kontroller"},
      {"x": -8, "fit": 0.92, "lo": 0.81, "hi": 1.03, "group": "Matchede kontroller"},
      {"x": -4, "fit": 0.87, "lo": 0.76, "hi": 0.98, "group": "Matchede kontroller"},
      {"x": 0, "fit": 0.82, "lo": 0.71, "hi": 0.93, "group": "Matchede kontroller"},
      {"x": 4, "fit": 0.775, "lo": 0.67, "hi": 0.88, "group": "Matchede kontroller"},
      {"x": 8, "fit": 0.725, "lo": 0.62, "hi": 0.83, "group": "Matchede kontroller"},
      {"x": 12, "fit": 0.675, "lo": 0.575, "hi": 0.78, "group": "Matchede kontroller"},
      {"x": 16, "fit": 0.63, "lo": 0.53, "hi": 0.73, "group": "Matchede kontroller"},
      {"x": 20, "fit": 0.59, "lo": 0.495, "hi": 0.69, "group": "Matchede kontroller"},
      {"x": 24, "fit": 0.565, "lo": 0.47, "hi": 0.66, "group": "Matchede kontroller"},
      {"x": 28, "fit": 0.55, "lo": 0.455, "hi": 0.645, "group": "Matchede kontroller"},
      {"x": 32, "fit": 0.54, "lo": 0.445, "hi": 0.635, "group": "Matchede kontroller"},
      {"x": 36, "fit": 0.535, "lo": 0.44, "hi": 0.63, "group": "Matchede kontroller"},
      {"x": 40, "fit": 0.535, "lo": 0.44, "hi": 0.63, "group": "Matchede kontroller"},
      {"x": 44, "fit": 0.537, "lo": 0.442, "hi": 0.632, "group": "Matchede kontroller"},
      {"x": 48, "fit": 0.54, "lo": 0.445, "hi": 0.635, "group": "Matchede kontroller"},
      {"x": 52, "fit": 0.548, "lo": 0.452, "hi": 0.644, "group": "Matchede kontroller"},
      {"x": 56, "fit": 0.56, "lo": 0.465, "hi": 0.655, "group": "Matchede kontroller"},
      {"x": 60, "fit": 0.575, "lo": 0.48, "hi": 0.67, "group": "Matchede kontroller"},
      {"x": 64, "fit": 0.59, "lo": 0.495, "hi": 0.685, "group": "Matchede kontroller"},
      {"x": 68, "fit": 0.605, "lo": 0.51, "hi": 0.7, "group": "Matchede kontroller"},
      {"x": 72, "fit": 0.62, "lo": 0.525, "hi": 0.715, "group": "Matchede kontroller"},
      {"x": 76, "fit": 0.64, "lo": 0.54, "hi": 0.74, "group": "Matchede kontroller"},
      {"x": 80, "fit": 0.66, "lo": 0.56, "hi": 0.76, "group": "Matchede kontroller"},
      {"x": 84, "fit": 0.685, "lo": 0.58, "hi": 0.79, "group": "Matchede kontroller"},
      {"x": 88, "fit": 0.71, "lo": 0.6, "hi": 0.82, "group": "Matchede kontroller"},
      {"x": 92, "fit": 0.74, "lo": 0.62, "hi": 0.86, "group": "Matchede kontroller"},
      {"x": 96, "fit": 0.77, "lo": 0.63, "hi": 0.91, "group": "Matchede kontroller"},
      {"x": 100, "fit": 0.795, "lo": 0.64, "hi": 0.95, "group": "Matchede kontroller"},
      {"x": 104, "fit": 0.815, "lo": 0.65, "hi": 0.98, "group": "Matchede kontroller"},
      {"x": -52, "fit": 0.88, "lo": 0.49, "hi": 1.27, "group": "Praksisklinik"},
      {"x": -48, "fit": 0.855, "lo": 0.55, "hi": 1.16, "group": "Praksisklinik"},
      {"x": -44, "fit": 0.83, "lo": 0.58, "hi": 1.08, "group": "Praksisklinik"},
      {"x": -40, "fit": 0.81, "lo": 0.6, "hi": 1.02, "group": "Praksisklinik"},
      {"x": -36, "fit": 0.79, "lo": 0.6, "hi": 0.98, "group": "Praksisklinik"},
      {"x": -32, "fit": 0.77, "lo": 0.6, "hi": 0.94, "group": "Praksisklinik"},
      {"x": -28, "fit": 0.745, "lo": 0.59, "hi": 0.9, "group": "Praksisklinik"},
      {"x": -24, "fit": 0.725, "lo": 0.58, "hi": 0.87, "group": "Praksisklinik"},
      {"x": -20, "fit": 0.705, "lo": 0.565, "hi": 0.845, "group": "Praksisklinik"},
      {"x": -16, "fit": 0.69, "lo": 0.55, "hi": 0.83, "group": "Praksisklinik"},
      {"x": -12, "fit": 0.68, "lo": 0.535, "hi": 0.825, "group": "Praksisklinik"},
      {"x": -8, "fit": 0.67, "lo": 0.52, "hi": 0.82, "group": "Praksisklinik"},
      {"x": -4, "fit": 0.66, "lo": 0.5, "hi": 0.82, "group": "Praksisklinik"},
      {"x": 0, "fit": 0.65, "lo": 0.48, "hi": 0.82, "group": "Praksisklinik"},
      {"x": 4, "fit": 0.655, "lo": 0.49, "hi": 0.82, "group": "Praksisklinik"},
      {"x": 8, "fit": 0.69, "lo": 0.53, "hi": 0.85, "group": "Praksisklinik"},
      {"x": 12, "fit": 0.725, "lo": 0.57, "hi": 0.88, "group": "Praksisklinik"},
      {"x": 16, "fit": 0.76, "lo": 0.6, "hi": 0.92, "group": "Praksisklinik"},
      {"x": 20, "fit": 0.79, "lo": 0.64, "hi": 0.95, "group": "Praksisklinik"},
      {"x": 24, "fit": 0.83, "lo": 0.68, "hi": 0.99, "group": "Praksisklinik"},
      {"x": 28, "fit": 0.88, "lo": 0.72, "hi": 1.04, "group": "Praksisklinik"},
      {"x": 32, "fit": 0.95, "lo": 0.78, "hi": 1.12, "group": "Praksisklinik"},
      {"x": 36, "fit": 1.03, "lo": 0.85, "hi": 1.21, "group": "Praksisklinik"},
      {"x": 40, "fit": 1.08, "lo": 0.89, "hi": 1.27, "group": "Praksisklinik"},
      {"x": 44, "fit": 1.105, "lo": 0.91, "hi": 1.3, "group": "Praksisklinik"},
      {"x": 48, "fit": 1.115, "lo": 0.92, "hi": 1.31, "group": "Praksisklinik"},
      {"x": 52, "fit": 1.12, "lo": 0.93, "hi": 1.31, "group": "Praksisklinik"},
      {"x": 56, "fit": 1.11, "lo": 0.92, "hi": 1.3, "group": "Praksisklinik"},
      {"x": 60, "fit": 1.105, "lo": 0.91, "hi": 1.29, "group": "Praksisklinik"},
      {"x": 64, "fit": 1.095, "lo": 0.9, "hi": 1.28, "group": "Praksisklinik"},
      {"x": 68, "fit": 1.08, "lo": 0.89, "hi": 1.26, "group": "Praksisklinik"},
      {"x": 72, "fit": 1.06, "lo": 0.88, "hi": 1.24, "group": "Praksisklinik"},
      {"x": 76, "fit": 1.03, "lo": 0.86, "hi": 1.21, "group": "Praksisklinik"},
      {"x": 80, "fit": 1.005, "lo": 0.83, "hi": 1.18, "group": "Praksisklinik"},
      {"x": 84, "fit": 0.98, "lo": 0.79, "hi": 1.17, "group": "Praksisklinik"},
      {"x": 88, "fit": 0.95, "lo": 0.75, "hi": 1.16, "group": "Praksisklinik"},
      {"x": 92, "fit": 0.925, "lo": 0.7, "hi": 1.16, "group": "Praksisklinik"},
      {"x": 96, "fit": 0.895, "lo": 0.63, "hi": 1.17, "group": "Praksisklinik"},
      {"x": 100, "fit": 0.865, "lo": 0.55, "hi": 1.19, "group": "Praksisklinik"},
      {"x": 104, "fit": 0.84, "lo": 0.46, "hi": 1.23, "group": "Praksisklinik"}
    ]
  },
  "spacing": 65,
  "vconcat": [
    {
      "spacing": 0,
      "hconcat": [
        {"width": 6, "height": 1, "data": {"values": []}, "mark": {"type": "point", "opacity": 0}, "view": {"stroke": null}},
        {
          "width": 475, "height": 208,
          "title": {"text": "Speciallæge (ekskl. almen medicin)", "dx": -40, "offset": 23, "fontSize": 17.5},
          "resolve": {"axis": {"x": "independent", "y": "independent"}},
          "layer": [
            {"data": {"name": "p1_pts"}, "mark": {"type": "circle", "size": 80, "opacity": 0.25},
             "encoding": {
               "x": {"field": "x", "type": "quantitative", "scale": {"domain": [-59.9, 111.7], "nice": false, "zero": false},
                     "axis": {"orient": "bottom", "values": [-50, 0, 50, 100], "grid": true, "gridWidth": 2, "title": null, "labelFontSize": 16.5, "labelPadding": 7, "labelExpr": "datum.value < 0 ? '-' + abs(datum.value) : '' + datum.value"}},
               "y": {"field": "y", "type": "quantitative", "scale": {"domain": [4.93, 19.98], "nice": false, "zero": false},
                     "axis": {"orient": "left", "values": [5, 10, 15], "grid": true, "gridWidth": 2, "title": "Omkostninger / uge", "titleFontSize": 17.5, "titlePadding": 11, "labelFontSize": 16.5, "labelPadding": 6}},
               "color": {"field": "group", "type": "nominal", "scale": {"range": ["#B22222", "#00008B"]}, "legend": null}
             }},
            {"data": {"name": "p1_fit"}, "transform": [{"filter": "datum.group == 'Matchede kontroller'"}],
             "mark": {"type": "area", "opacity": 0.4, "interpolate": "monotone"},
             "encoding": {
               "x": {"field": "x", "type": "quantitative", "axis": {"orient": "bottom", "values": [-25, 25, 75], "grid": true, "gridWidth": 1.2, "labels": false, "ticks": false, "domain": false, "title": null}},
               "y": {"field": "lo", "type": "quantitative", "axis": {"orient": "left", "values": [7.5, 12.5, 17.5], "grid": true, "gridWidth": 1.2, "labels": false, "ticks": false, "domain": false, "title": null}},
               "y2": {"field": "hi"},
               "fill": {"field": "group", "type": "nominal", "scale": {"range": ["#999999", "#999999"]}, "legend": {"symbolType": "M-0.97,-1H1.3V1H-0.97Z", "symbolOpacity": 0.4, "symbolStrokeWidth": 0, "labelExpr": "''", "columnPadding": 207}}
             }},
            {"data": {"name": "p1_fit"}, "transform": [{"filter": "datum.group == 'Matchede kontroller'"}],
             "mark": {"type": "line", "strokeWidth": 2, "interpolate": "monotone"},
             "encoding": {
               "x": {"field": "x", "type": "quantitative", "axis": null},
               "y": {"field": "fit", "type": "quantitative", "axis": null},
               "stroke": {"field": "group", "type": "nominal", "scale": {"domain": ["Matchede kontroller", "Praksisklinik"], "range": ["#B22222", "#00008B"]}, "legend": {"symbolType": "M-0.76,0H1.04", "symbolStrokeWidth": 2, "symbolFillColor": "transparent"}}
             }},
            {"data": {"name": "p1_fit"}, "transform": [{"filter": "datum.group == 'Praksisklinik'"}],
             "mark": {"type": "area", "opacity": 0.4, "interpolate": "monotone"},
             "encoding": {
               "x": {"field": "x", "type": "quantitative", "axis": null},
               "y": {"field": "lo", "type": "quantitative", "axis": null},
               "y2": {"field": "hi"},
               "fill": {"field": "group", "type": "nominal", "scale": {"range": ["#999999", "#999999"]}, "legend": {"symbolType": "M-0.97,-1H1.3V1H-0.97Z", "symbolOpacity": 0.4, "symbolStrokeWidth": 0, "labelExpr": "''", "columnPadding": 207}}
             }},
            {"data": {"name": "p1_fit"}, "transform": [{"filter": "datum.group == 'Praksisklinik'"}],
             "mark": {"type": "line", "strokeWidth": 2, "interpolate": "monotone"},
             "encoding": {
               "x": {"field": "x", "type": "quantitative", "axis": null},
               "y": {"field": "fit", "type": "quantitative", "axis": null},
               "stroke": {"field": "group", "type": "nominal", "scale": {"domain": ["Matchede kontroller", "Praksisklinik"], "range": ["#B22222", "#00008B"]}, "legend": {"symbolType": "M-0.76,0H1.04", "symbolStrokeWidth": 2, "symbolFillColor": "transparent"}}
             }},
            {"data": {"name": "vline"}, "mark": {"type": "rule", "color": "#000000", "strokeWidth": 2.7, "strokeDash": [2.7, 8.8], "strokeDashOffset": 1.65},
             "encoding": {"x": {"field": "x", "type": "quantitative", "axis": null}}}
          ]
        }
      ]
    },
    {
      "spacing": 0,
      "hconcat": [
        {"width": 29, "height": 1, "data": {"values": []}, "mark": {"type": "point", "opacity": 0}, "view": {"stroke": null}},
        {
          "spacing": 31,
          "hconcat": [
            {
              "width": 481, "height": 226,
              "title": {"text": "Kiropraktorer, fysio- og fodterapi", "dx": -36, "offset": 26, "fontSize": 18.5},
              "resolve": {"axis": {"x": "independent", "y": "independent"}},
              "layer": [
                {"data": {"name": "p2_pts"}, "mark": {"type": "circle", "size": 80, "opacity": 0.25},
                 "encoding": {
                   "x": {"field": "x", "type": "quantitative", "scale": {"domain": [-59.7, 111.7], "nice": false, "zero": false},
                         "axis": {"orient": "bottom", "values": [-50, 0, 50, 100], "grid": true, "gridWidth": 2, "title": null, "labelFontSize": 17, "labelPadding": 9, "labelExpr": "datum.value < 0 ? '-' + abs(datum.value) : '' + datum.value"}},
                   "y": {"field": "y", "type": "quantitative", "scale": {"domain": [0.65, 5.7], "nice": false, "zero": false},
                         "axis": {"orient": "left", "values": [1, 2, 3, 4, 5], "grid": true, "gridWidth": 2, "title": "Omkostninger / uge", "titleFontSize": 18.5, "titlePadding": 12, "labelFontSize": 17, "labelPadding": 8}},
                   "color": {"field": "group", "type": "nominal", "scale": {"range": ["#B22222", "#00008B"]}, "legend": null}
                 }},
                {"data": {"name": "p2_fit"}, "transform": [{"filter": "datum.group == 'Matchede kontroller'"}],
                 "mark": {"type": "area", "opacity": 0.4, "interpolate": "monotone"},
                 "encoding": {
                   "x": {"field": "x", "type": "quantitative", "axis": {"orient": "bottom", "values": [-25, 25, 75], "grid": true, "gridWidth": 1.2, "labels": false, "ticks": false, "domain": false, "title": null}},
                   "y": {"field": "lo", "type": "quantitative", "axis": {"orient": "left", "values": [1.5, 2.5, 3.5, 4.5, 5.5], "grid": true, "gridWidth": 1.2, "labels": false, "ticks": false, "domain": false, "title": null}},
                   "y2": {"field": "hi"},
                   "fill": {"field": "group", "type": "nominal", "scale": {"range": ["#999999", "#999999"]}, "legend": {"symbolType": "M-0.97,-1H1.3V1H-0.97Z", "symbolOpacity": 0.4, "symbolStrokeWidth": 0, "labelExpr": "''", "columnPadding": 207}}
                 }},
                {"data": {"name": "p2_fit"}, "transform": [{"filter": "datum.group == 'Matchede kontroller'"}],
                 "mark": {"type": "line", "strokeWidth": 2, "interpolate": "monotone"},
                 "encoding": {
                   "x": {"field": "x", "type": "quantitative", "axis": null},
                   "y": {"field": "fit", "type": "quantitative", "axis": null},
                   "stroke": {"field": "group", "type": "nominal", "scale": {"domain": ["Matchede kontroller", "Praksisklinik"], "range": ["#B22222", "#00008B"]}, "legend": {"symbolType": "M-0.76,0H1.04", "symbolStrokeWidth": 2, "symbolFillColor": "transparent"}}
                 }},
                {"data": {"name": "p2_fit"}, "transform": [{"filter": "datum.group == 'Praksisklinik'"}],
                 "mark": {"type": "area", "opacity": 0.4, "interpolate": "monotone"},
                 "encoding": {
                   "x": {"field": "x", "type": "quantitative", "axis": null},
                   "y": {"field": "lo", "type": "quantitative", "axis": null},
                   "y2": {"field": "hi"},
                   "fill": {"field": "group", "type": "nominal", "scale": {"range": ["#999999", "#999999"]}, "legend": {"symbolType": "M-0.97,-1H1.3V1H-0.97Z", "symbolOpacity": 0.4, "symbolStrokeWidth": 0, "labelExpr": "''", "columnPadding": 207}}
                 }},
                {"data": {"name": "p2_fit"}, "transform": [{"filter": "datum.group == 'Praksisklinik'"}],
                 "mark": {"type": "line", "strokeWidth": 2, "interpolate": "monotone"},
                 "encoding": {
                   "x": {"field": "x", "type": "quantitative", "axis": null},
                   "y": {"field": "fit", "type": "quantitative", "axis": null},
                   "stroke": {"field": "group", "type": "nominal", "scale": {"domain": ["Matchede kontroller", "Praksisklinik"], "range": ["#B22222", "#00008B"]}, "legend": {"symbolType": "M-0.76,0H1.04", "symbolStrokeWidth": 2, "symbolFillColor": "transparent"}}
                 }},
                {"data": {"name": "vline"}, "mark": {"type": "rule", "color": "#000000", "strokeWidth": 2.7, "strokeDash": [2.7, 8.8], "strokeDashOffset": 1.65},
                 "encoding": {"x": {"field": "x", "type": "quantitative", "axis": null}}}
              ]
            },
            {
              "width": 456, "height": 227,
              "view": {"stroke": null},
              "title": {"text": "Psykologhjælp", "dx": -68, "offset": 26, "fontSize": 18.5},
              "resolve": {"axis": {"x": "independent", "y": "independent"}},
              "layer": [
                {"data": {"name": "p3_pts"}, "mark": {"type": "circle", "size": 80, "opacity": 0.25},
                 "encoding": {
                   "x": {"field": "x", "type": "quantitative", "scale": {"domain": [-59.6, 108.85], "nice": false, "zero": false},
                         "axis": {"orient": "bottom", "values": [-50, 0, 50, 100], "grid": true, "gridWidth": 2, "title": null, "labelFontSize": 17, "labelPadding": 9, "domain": true, "domainColor": "#333333", "domainWidth": 1.2, "labelExpr": "datum.value < 0 ? '-' + abs(datum.value) : '' + datum.value"}},
                   "y": {"field": "y", "type": "quantitative", "scale": {"domain": [-0.032, 1.647], "nice": false, "zero": false},
                         "axis": {"orient": "left", "values": [0, 0.5, 1, 1.5], "format": ".1f", "grid": true, "gridWidth": 2, "title": "Omkostninger / uge", "titleFontSize": 17.5, "titlePadding": 13, "labelFontSize": 17, "labelPadding": 6, "domain": true, "domainColor": "#333333", "domainWidth": 1.2}},
                   "color": {"field": "group", "type": "nominal", "scale": {"range": ["#B22222", "#00008B"]}, "legend": null}
                 }},
                {"data": {"name": "p3_fit"}, "transform": [{"filter": "datum.group == 'Matchede kontroller'"}],
                 "mark": {"type": "area", "opacity": 0.4, "interpolate": "monotone"},
                 "encoding": {
                   "x": {"field": "x", "type": "quantitative", "axis": {"orient": "top", "values": [-25, 25, 75], "grid": true, "gridWidth": 1.2, "labels": false, "ticks": false, "domain": true, "domainColor": "#333333", "domainWidth": 1.2, "title": null}},
                   "y": {"field": "lo", "type": "quantitative", "axis": {"orient": "left", "values": [0.25, 0.75, 1.25], "grid": true, "gridWidth": 1.2, "labels": false, "ticks": false, "domain": false, "title": null}},
                   "y2": {"field": "hi"},
                   "fill": {"field": "group", "type": "nominal", "scale": {"range": ["#999999", "#999999"]}, "legend": {"symbolType": "M-0.97,-1H1.3V1H-0.97Z", "symbolOpacity": 0.4, "symbolStrokeWidth": 0, "labelExpr": "''", "columnPadding": 207}}
                 }},
                {"data": {"name": "p3_fit"}, "transform": [{"filter": "datum.group == 'Matchede kontroller'"}],
                 "mark": {"type": "line", "strokeWidth": 2, "interpolate": "monotone"},
                 "encoding": {
                   "x": {"field": "x", "type": "quantitative", "axis": null},
                   "y": {"field": "fit", "type": "quantitative", "axis": null},
                   "stroke": {"field": "group", "type": "nominal", "scale": {"domain": ["Matchede kontroller", "Praksisklinik"], "range": ["#B22222", "#00008B"]}, "legend": {"symbolType": "M-0.76,0H1.04", "symbolStrokeWidth": 2, "symbolFillColor": "transparent"}}
                 }},
                {"data": {"name": "p3_fit"}, "transform": [{"filter": "datum.group == 'Praksisklinik'"}],
                 "mark": {"type": "area", "opacity": 0.4, "interpolate": "monotone"},
                 "encoding": {
                   "x": {"field": "x", "type": "quantitative", "axis": null},
                   "y": {"field": "lo", "type": "quantitative", "axis": null},
                   "y2": {"field": "hi"},
                   "fill": {"field": "group", "type": "nominal", "scale": {"range": ["#999999", "#999999"]}, "legend": {"symbolType": "M-0.97,-1H1.3V1H-0.97Z", "symbolOpacity": 0.4, "symbolStrokeWidth": 0, "labelExpr": "''", "columnPadding": 207}}
                 }},
                {"data": {"name": "p3_fit"}, "transform": [{"filter": "datum.group == 'Praksisklinik'"}],
                 "mark": {"type": "line", "strokeWidth": 2, "interpolate": "monotone"},
                 "encoding": {
                   "x": {"field": "x", "type": "quantitative", "axis": null},
                   "y": {"field": "fit", "type": "quantitative", "axis": null},
                   "stroke": {"field": "group", "type": "nominal", "scale": {"domain": ["Matchede kontroller", "Praksisklinik"], "range": ["#B22222", "#00008B"]}, "legend": {"symbolType": "M-0.76,0H1.04", "symbolStrokeWidth": 2, "symbolFillColor": "transparent"}}
                 }},
                {"data": {"name": "vline"}, "mark": {"type": "rule", "color": "#000000", "strokeWidth": 2.7, "strokeDash": [2.7, 8.8], "strokeDashOffset": 1.65},
                 "encoding": {"x": {"field": "x", "type": "quantitative", "axis": null}}}
              ]
            }
          ]
        }
      ]
    }
  ]
}
